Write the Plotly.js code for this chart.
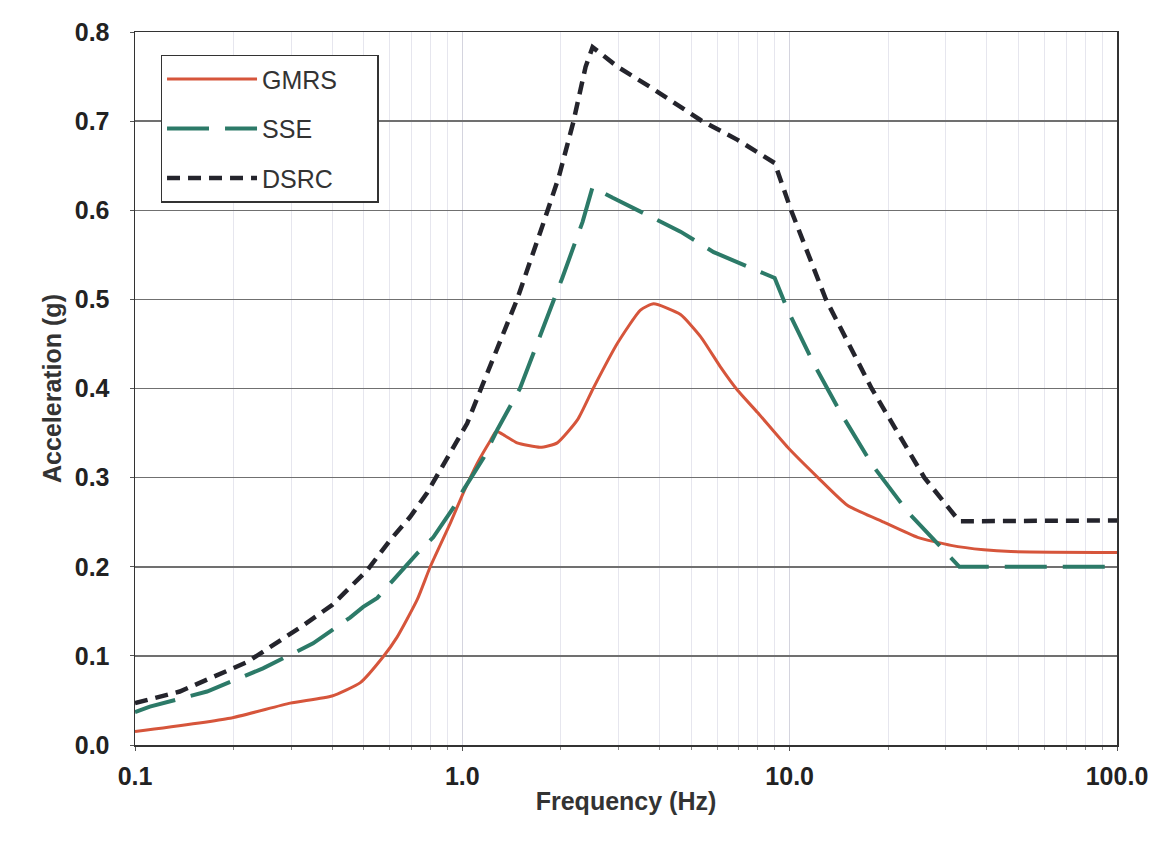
<!DOCTYPE html>
<html>
<head>
<meta charset="utf-8">
<script src="https://cdn.plot.ly/plotly-3.0.1.min.js"></script>
<style>
  html, body { margin: 0; padding: 0; background: #ffffff; }
  #chart { width: 1157px; height: 843px; }
</style>
</head>
<body>
<div id="chart"></div>
<script>
// GMRS
const gmrsFreq = [0.1, 0.195, 0.298, 0.40, 0.488, 0.573, 0.632, 0.728, 0.798, 0.919, 1.007, 1.11, 1.22, 1.27, 1.35, 1.47, 1.73, 1.95, 2.25, 2.51, 2.98, 3.5, 3.84, 4.64, 5.35, 6.15, 6.93, 7.98, 9.86, 12.2, 15.0, 19.4, 24.6, 31.1, 39.2, 47.4, 100];
const gmrsAcc  = [0.015, 0.030, 0.047, 0.055, 0.070, 0.099, 0.121, 0.163, 0.200, 0.249, 0.283, 0.316, 0.342, 0.352, 0.347, 0.339, 0.334, 0.339, 0.365, 0.400, 0.451, 0.488, 0.495, 0.483, 0.458, 0.424, 0.398, 0.373, 0.334, 0.300, 0.269, 0.250, 0.233, 0.224, 0.219, 0.217, 0.216];

// SSE
const sseFreq = [0.1, 0.111, 0.166, 0.246, 0.35, 0.454, 0.498, 0.55, 0.615, 0.728, 0.815, 0.938, 1.007, 1.16, 1.28, 1.40, 1.50, 1.92, 2.02, 2.33, 2.5, 2.88, 3.63, 4.64, 5.86, 7.6, 9.0, 9.86, 11.8, 14.3, 17.9, 23.0, 30.4, 33.0, 100];
const sseAcc  = [0.037, 0.043, 0.060, 0.086, 0.114, 0.143, 0.155, 0.165, 0.185, 0.215, 0.233, 0.266, 0.286, 0.322, 0.354, 0.381, 0.400, 0.503, 0.524, 0.587, 0.626, 0.614, 0.595, 0.576, 0.553, 0.535, 0.524, 0.488, 0.429, 0.373, 0.314, 0.261, 0.213, 0.200, 0.200];

// DSRC
const dsrcFreq = [0.1, 0.137, 0.22, 0.32, 0.40, 0.512, 0.602, 0.693, 0.781, 0.839, 0.938, 1.035, 1.135, 1.47, 1.77, 1.97, 2.18, 2.38, 2.5, 2.98, 3.76, 5.35, 6.93, 9.0, 10.1, 12.9, 17.8, 25.8, 33.0, 100];
const dsrcAcc  = [0.047, 0.060, 0.093, 0.132, 0.157, 0.196, 0.230, 0.256, 0.283, 0.303, 0.334, 0.361, 0.398, 0.500, 0.586, 0.637, 0.698, 0.761, 0.783, 0.761, 0.738, 0.701, 0.679, 0.653, 0.600, 0.500, 0.400, 0.300, 0.251, 0.252];

const seriesNames = ["GMRS", "SSE", "DSRC"];
const xTickVals = [0.1, 1, 10, 100];
const xTickText = ["0.1", "1.0", "10.0", "100.0"];
const yTickVals = [0, 0.1, 0.2, 0.3, 0.4, 0.5, 0.6, 0.7, 0.8];
const yTickText = ["0.0", "0.1", "0.2", "0.3", "0.4", "0.5", "0.6", "0.7", "0.8"];

const FONT = "Liberation Sans, Arial, sans-serif";
const pad = "\u00a0".repeat(5);

const traces = [
  { x: gmrsFreq, y: gmrsAcc, name: seriesNames[0] + pad, mode: "lines", legendgroup: "a",
    line: { color: "#d6553b", width: 3, shape: "spline", smoothing: 0.5 } },
  { x: sseFreq, y: sseAcc, name: seriesNames[1] + pad, mode: "lines", legendgroup: "b",
    line: { color: "#2c7a68", width: 4, dash: "42px,16px" } },
  { x: dsrcFreq, y: dsrcAcc, name: seriesNames[2] + pad, mode: "lines", legendgroup: "c",
    line: { color: "#24242c", width: 4.5, dash: "13px,8px" } }
];

const layout = {
  width: 1157, height: 843,
  paper_bgcolor: "#ffffff", plot_bgcolor: "#ffffff",
  margin: { l: 135, r: 40, t: 32, b: 98 },
  font: { family: FONT, color: "#222222" },
  showlegend: true,
  legend: {
    x: 0.026, y: 0.968, xanchor: "left", yanchor: "top",
    bgcolor: "#ffffff", bordercolor: "#333333", borderwidth: 1.5,
    font: { family: FONT, size: 25, color: "#333333" },
    traceorder: "grouped", tracegroupgap: 14, itemwidth: 90
  },
  xaxis: {
    type: "log", range: [-1, 2],
    tickvals: xTickVals, ticktext: xTickText,
    tickfont: { family: FONT, size: 25, color: "#222222", weight: "bold" },
    ticks: "outside", ticklen: 4, tickcolor: "#555555",
    ticklabelstandoff: 4,
    showgrid: true, gridcolor: "#d4d4de", gridwidth: 1,
    minor: { dtick: "D1", showgrid: true, gridcolor: "#e6e6ee", gridwidth: 1, ticks: "outside", ticklen: 3, tickcolor: "#888888" },
    showline: true, linecolor: "#333333", linewidth: 1.5, mirror: true,
    zeroline: false,
    title: { text: "Frequency (Hz)", font: { family: FONT, size: 25, color: "#333333", weight: "bold" }, standoff: 4 }
  },
  yaxis: {
    range: [0, 0.8],
    tickvals: yTickVals, ticktext: yTickText,
    tickfont: { family: FONT, size: 25, color: "#222222", weight: "bold" },
    ticks: "outside", ticklen: 4, tickcolor: "#555555",
    ticklabelstandoff: 15,
    showgrid: true, gridcolor: "#707070", gridwidth: 1.5,
    showline: true, linecolor: "#333333", linewidth: 1.5, mirror: true,
    zeroline: false,
    title: { text: "Acceleration (g)", font: { family: FONT, size: 25, color: "#333333", weight: "bold" }, standoff: 6 }
  }
};

Plotly.newPlot("chart", traces, layout, { displayModeBar: false, staticPlot: true });
</script>
</body>
</html>
